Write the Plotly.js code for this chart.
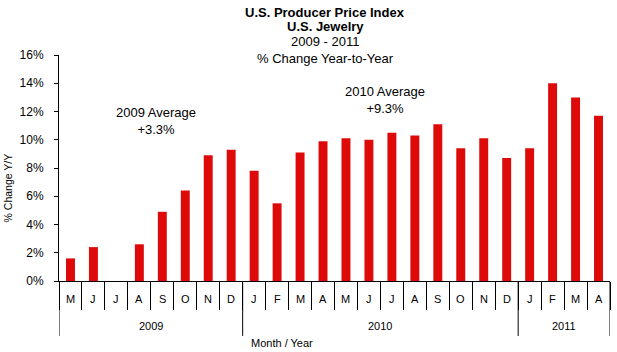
<!DOCTYPE html>
<html>
<head>
<meta charset="utf-8">
<script src="https://cdn.plot.ly/plotly-3.0.1.min.js"></script>
<style>html,body{margin:0;padding:0;background:#fff;}#chart{width:617px;height:352px;}</style>
</head>
<body>
<div id="chart"></div>
<script>
// ---- Data ----
var years = ["2009","2009","2009","2009","2009","2009","2009","2009",
             "2010","2010","2010","2010","2010","2010","2010","2010","2010","2010","2010","2010",
             "2011","2011","2011","2011"];
var months = ["M","J","J","A","S","O","N","D",
              "J","F","M","A","M","J","J","A","S","O","N","D",
              "J","F","M","A"];
var pctChange = [1.6, 2.4, null, 2.6, 4.9, 6.4, 8.9, 9.3,
                 7.8, 5.5, 9.1, 9.9, 10.1, 10.0, 10.5, 10.3, 11.1, 9.4, 10.1, 8.7,
                 9.4, 14.0, 13.0, 11.7];
var yearGroups = ["2009","2010","2011"];
var yTickVals = [0,2,4,6,8,10,12,14,16];
var yTickText = ["0%","2%","4%","6%","8%","10%","12%","14%","16%"];
var titleLines = ["<b>U.S. Producer Price Index</b>","<b>U.S. Jewelry</b>","2009 - 2011","% Change Year-to-Year"];
var noteTexts = ["2009 Average<br>+3.3%","2010 Average<br>+9.3%"];

// ---- Build ----
var cats = months.map(function(m,i){ return years[i] + "-" + i + "-" + m; });
var FONT = "Arial, 'Liberation Sans', sans-serif";

var trace = {
  type: "bar",
  x: cats,
  y: pctChange,
  marker: {color: "#DE0A0A", line: {width: 0}},
  hoverinfo: "x+y"
};

var annotations = [];
// month labels
cats.forEach(function(c,i){
  annotations.push({xref:"x", yref:"paper", x:c, y:-0.08, yanchor:"middle", xanchor:"center",
    text: months[i], showarrow:false, font:{family:FONT, size:11, color:"#000"}});
});
// year labels and divider positions
var shapes = [];
var boundaries = [-0.5];
yearGroups.forEach(function(yr){
  var first = years.indexOf(yr), last = years.lastIndexOf(yr);
  annotations.push({xref:"x", yref:"paper", x:(first+last)/2, y:-0.199, yanchor:"middle", xanchor:"center",
    text: yr, showarrow:false, font:{family:FONT, size:11, color:"#000"}});
  boundaries.push(last + 0.5);
});
boundaries.forEach(function(b){
  shapes.push({type:"line", xref:"x", yref:"paper", x0:b, x1:b, y0:0, y1:-0.243,
    line:{color:"#000", width:1}});
});
// axis titles
annotations.push({xref:"paper", yref:"paper", x:0.405, y:-0.274, xanchor:"center", yanchor:"middle",
  text:"Month / Year", showarrow:false, font:{family:FONT, size:11, color:"#000"}});
annotations.push({xref:"paper", yref:"paper", x:-0.0926, y:0.414, xanchor:"center", yanchor:"middle",
  text:"% Change Y/Y", textangle:-90, showarrow:false, font:{family:FONT, size:10.5, color:"#000"}});
// chart title lines
var titleY = [12.8, 26.4, 41.6, 58.2];
titleLines.forEach(function(t,i){
  annotations.push({xref:"paper", yref:"paper", x:0.483, y:(281 - titleY[i]) / 226, xanchor:"center", yanchor:"middle",
    text:t, showarrow:false, font:{family:FONT, size:13, color:"#000"}});
});
// average notes
annotations.push({xref:"paper", yref:"paper", x:0.176, y:0.706, xanchor:"center", yanchor:"middle",
  text:noteTexts[0], showarrow:false, font:{family:FONT, size:13, color:"#000"}});
annotations.push({xref:"paper", yref:"paper", x:0.592, y:0.801, xanchor:"center", yanchor:"middle",
  text:noteTexts[1], showarrow:false, font:{family:FONT, size:13, color:"#000"}});

var layout = {
  width: 617, height: 352,
  margin: {l:59, r:7, t:55, b:71, pad:0},
  paper_bgcolor: "#fff", plot_bgcolor: "#fff",
  showlegend: false,
  bargap: 0.61,
  font: {family: FONT, size: 12, color: "#000"},
  xaxis: {
    type: "category",
    categoryorder: "array", categoryarray: cats,
    range: [-0.5, cats.length - 0.5],
    showgrid: false, zeroline: false,
    showline: true, linecolor: "#000", linewidth: 1,
    ticks: "outside", tickson: "boundaries", ticklen: 28, tickcolor: "#000", tickwidth: 1,
    showticklabels: false
  },
  yaxis: {
    range: [0, 16],
    tickmode: "array", tickvals: yTickVals, ticktext: yTickText,
    showgrid: false, zeroline: false,
    showline: true, linecolor: "#000", linewidth: 1,
    ticks: "outside", ticklen: 4, tickcolor: "#000", tickwidth: 1,
    ticklabelstandoff: 8,
    tickfont: {family: FONT, size: 12, color: "#000"}
  },
  shapes: shapes,
  annotations: annotations
};

Plotly.newPlot("chart", [trace], layout, {displayModeBar: false, staticPlot: true});
</script>
</body>
</html>
